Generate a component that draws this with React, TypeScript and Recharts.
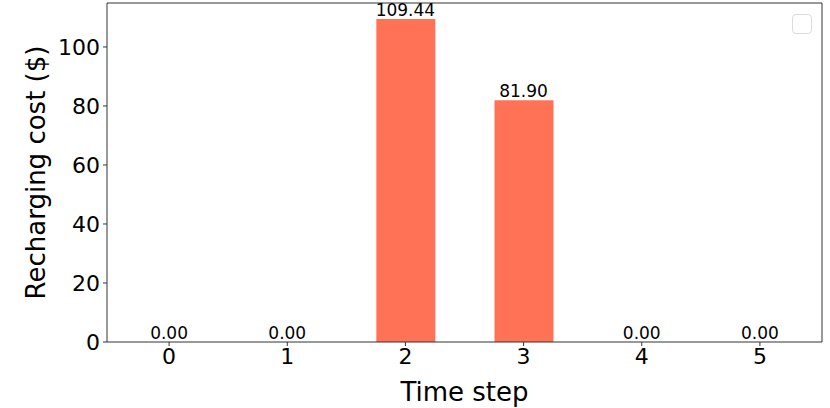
import React from 'react';
import { ComposedChart, Bar, Line, XAxis, YAxis, LabelList } from 'recharts';

const timeSteps = ['0', '1', '2', '3', '4', '5'];
const rechargingCost = [0, 0, 109.44, 81.9, 0, 0];
const yTicks = [0, 20, 40, 60, 80, 100];

const data = timeSteps.map((t, i) => ({ step: t, cost: rechargingCost[i] }));

const FONT = '"DejaVu Sans", sans-serif';
const AXIS = '#333333';

const App: React.FC = () => {
    return (
        <div style={{ position: 'absolute', left: 0, top: 0, width: 830, height: 408, background: '#fff', fontFamily: FONT }}>
            <ComposedChart
                width={830}
                height={408}
                data={data}
                margin={{ top: 2, right: 7, left: 0, bottom: 0 }}
                barCategoryGap={0}
            >
                <XAxis
                    dataKey="step"
                    height={66}
                    padding={{ left: 3, right: 3 }}
                    stroke={AXIS}
                    tickSize={4}
                    tickMargin={2}
                    tick={{ fill: '#000', fontSize: 22, fontFamily: FONT }}
                    label={{ value: 'Time step', position: 'insideBottom', offset: 7, fill: '#000', fontSize: 26, fontFamily: FONT }}
                />
                <XAxis xAxisId="top" orientation="top" dataKey="step" height={1} tick={false} tickLine={false} stroke={AXIS} />
                <YAxis
                    width={107}
                    domain={[0, 114.9]}
                    ticks={yTicks}
                    allowDataOverflow
                    stroke={AXIS}
                    tickSize={4}
                    tickMargin={3}
                    tick={{ fill: '#000', fontSize: 22, fontFamily: FONT }}
                    label={{ value: 'Recharging cost ($)', angle: -90, position: 'center', dx: -18, fill: '#000', fontSize: 26, fontFamily: FONT }}
                />
                <YAxis yAxisId="right" orientation="right" width={1} tick={false} tickLine={false} stroke={AXIS} />
                <Bar dataKey="cost" fill="#FF7256" barSize={59} isAnimationActive={false} />
                {/* invisible series just to carry the value labels, zeros included */}
                <Line dataKey="cost" stroke="none" dot={false} activeDot={false} isAnimationActive={false}>
                    <LabelList
                        dataKey="cost"
                        position="top"
                        offset={3}
                        formatter={(v: any) => Number(v).toFixed(2)}
                        style={{ fill: '#000', fontSize: 17, fontFamily: FONT }}
                    />
                </Line>
            </ComposedChart>
            {/* empty legend box left by matplotlib */}
            <div style={{ position: 'absolute', left: 792, top: 14, width: 18, height: 18, border: '1px solid #dcdcdc', borderRadius: 4 }} />
        </div>
    );
};

export default App;
